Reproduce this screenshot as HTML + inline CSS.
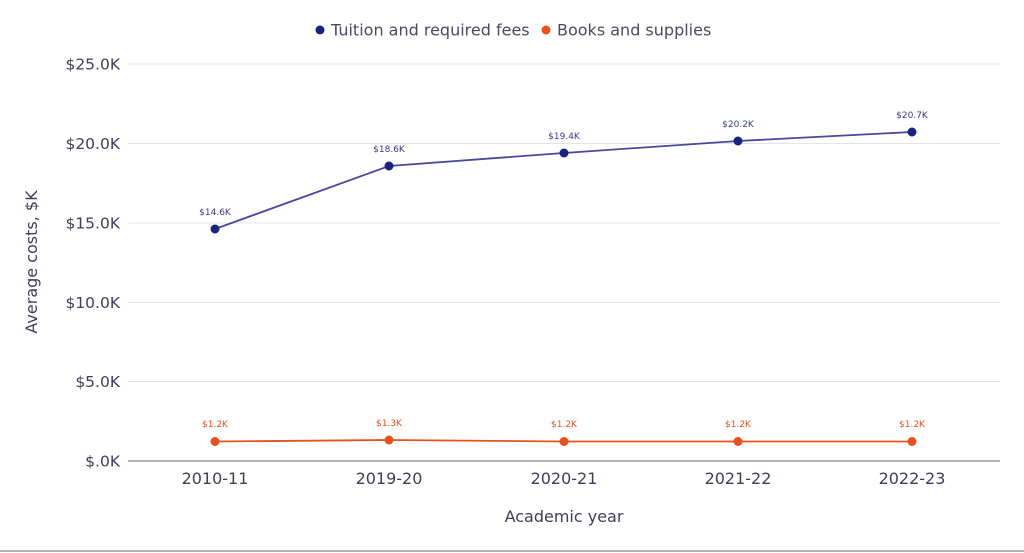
<!DOCTYPE html>
<html><head><style>
html,body{margin:0;padding:0;background:#fff;}
svg{display:block;font-family:"DejaVu Sans","Liberation Sans",sans-serif;}
</style></head><body>
<svg width="1024" height="553" viewBox="0 0 1024 553">
<g stroke="#e4e4e4" stroke-width="1">
<line x1="128" y1="64" x2="1000" y2="64"/>
<line x1="128" y1="143.5" x2="1000" y2="143.5"/>
<line x1="128" y1="223" x2="1000" y2="223"/>
<line x1="128" y1="302.5" x2="1000" y2="302.5"/>
<line x1="128" y1="381.5" x2="1000" y2="381.5"/>
</g>
<line x1="128" y1="461" x2="1000" y2="461" stroke="#999" stroke-width="1.5"/>
<line x1="0" y1="551" x2="1024" y2="551" stroke="#999" stroke-width="1.5"/>
<g fill="#3d3d5c" font-size="15.5" text-anchor="end">
<text x="120" y="69.5">$25.0K</text>
<text x="120" y="149">$20.0K</text>
<text x="120" y="228.5">$15.0K</text>
<text x="120" y="308">$10.0K</text>
<text x="120" y="387">$5.0K</text>
<text x="120" y="466.5">$.0K</text>
</g>
<g fill="#3d3d5c" font-size="16" text-anchor="middle">
<text x="215" y="484">2010-11</text>
<text x="389" y="484">2019-20</text>
<text x="564" y="484">2020-21</text>
<text x="738" y="484">2021-22</text>
<text x="912" y="484">2022-23</text>
<text x="564" y="522">Academic year</text>
<text transform="translate(37,262) rotate(-90)">Average costs, $K</text>
</g>
<circle cx="320" cy="30" r="4.5" fill="#1a237e"/>
<text x="331" y="35.5" font-size="16" fill="#4a4a66">Tuition and required fees</text>
<circle cx="546" cy="30" r="4.5" fill="#e8501e"/>
<text x="557" y="35.5" font-size="16" fill="#4a4a66">Books and supplies</text>
<polyline points="215,229 389,166 564,153 738,141 912,132" fill="none" stroke="#4848a0" stroke-width="1.8"/>
<g fill="#1a237e">
<circle cx="215" cy="229" r="4.5"/><circle cx="389" cy="166" r="4.5"/><circle cx="564" cy="153" r="4.5"/><circle cx="738" cy="141" r="4.5"/><circle cx="912" cy="132" r="4.5"/>
</g>
<g fill="#3a3a8a" font-size="9" text-anchor="middle">
<text x="215" y="215">$14.6K</text><text x="389" y="152">$18.6K</text><text x="564" y="139">$19.4K</text><text x="738" y="127">$20.2K</text><text x="912" y="118">$20.7K</text>
</g>
<polyline points="215,441.5 389,440 564,441.5 738,441.5 912,441.5" fill="none" stroke="#e8501e" stroke-width="1.8"/>
<g fill="#e8501e">
<circle cx="215" cy="441.5" r="4.5"/><circle cx="389" cy="440" r="4.5"/><circle cx="564" cy="441.5" r="4.5"/><circle cx="738" cy="441.5" r="4.5"/><circle cx="912" cy="441.5" r="4.5"/>
</g>
<g fill="#e8501e" font-size="9" text-anchor="middle">
<text x="215" y="427">$1.2K</text><text x="389" y="426">$1.3K</text><text x="564" y="427">$1.2K</text><text x="738" y="427">$1.2K</text><text x="912" y="427">$1.2K</text>
</g>
</svg>
</body></html>
